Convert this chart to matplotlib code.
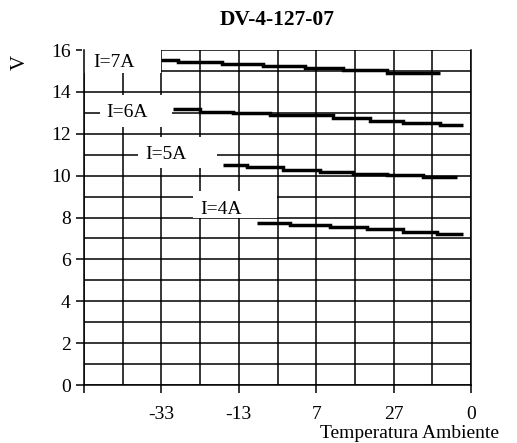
import matplotlib
matplotlib.use('Agg')
import matplotlib.pyplot as plt
from matplotlib.patches import Rectangle

plt.rcParams['font.family'] = ['Liberation Serif', 'DejaVu Serif']

# data (step curves: edges in degrees, levels in volts)
labels = ['I=7A', 'I=6A', 'I=5A', 'I=4A']
edges_7a = [-33, -28.6, -17.4, -6.7, 4.1, 14.0, 25.2, 39.0]
volts_7a = [15.50, 15.41, 15.32, 15.22, 15.13, 15.05, 14.92]
edges_6a = [-29.9, -23.0, -14.4, -4.9, 11.4, 20.9, 29.5, 39.0, 45.0]
volts_6a = [13.18, 13.05, 12.97, 12.88, 12.74, 12.62, 12.51, 12.42]
edges_5a = [-17.0, -11.0, -1.5, 8.0, 16.6, 25.2, 34.7, 43.3]
volts_5a = [10.51, 10.40, 10.28, 10.19, 10.09, 10.03, 9.92]
edges_4a = [-8.4, 0.2, 10.6, 20.0, 29.5, 38.1, 45.0]
volts_4a = [7.75, 7.62, 7.53, 7.43, 7.32, 7.21]

xticks = [-53, -33, -13, 7, 27, 47]
xtick_labels = ['', '-33', '-13', '7', '27', '0']
yticks = [0, 2, 4, 6, 8, 10, 12, 14, 16]

# label positions and white boxes behind them (x0, x1, y0, y1)
label_pos = [(-45.2, 15.4), (-41.9, 13.0), (-31.8, 11.0), (-17.6, 8.4)]
label_boxes = [(-53.5, -33, 14.9, 16.3), (-48.9, -30.3, 12.3, 13.85),
               (-39.0, -18.7, 10.36, 11.85), (-24.8, -3.1, 7.97, 9.26)]

fig = plt.figure(figsize=(5.17, 4.43), dpi=100)
ax = fig.add_axes([84/517, 58/443, 387/517, 335/443])

for e, v in [(edges_7a, volts_7a), (edges_6a, volts_6a),
             (edges_5a, volts_5a), (edges_4a, volts_4a)]:
    ax.stairs(v, e, baseline=None, color='black', lw=2.5, zorder=3)

for (x0, x1, y0, y1) in label_boxes:
    ax.add_patch(Rectangle((x0, y0), x1 - x0, y1 - y0, facecolor='white',
                           edgecolor='none', zorder=2, clip_on=False))
for lab, (x, y) in zip(labels, label_pos):
    ax.text(x, y, lab, fontsize=14, ha='center', va='center', zorder=4)

ax.set_xlim(-53, 47)
ax.set_ylim(0, 16)
ax.set_xticks(xticks)
ax.set_xticklabels(xtick_labels)
ax.set_xticks([-43, -23, -3, 17, 37], minor=True)
ax.set_yticks(yticks)
ax.set_yticks([1, 3, 5, 7, 9, 11, 13, 15], minor=True)
ax.grid(which='both', color='black', lw=1.1)
ax.tick_params(which='major', length=6, width=1.1, labelsize=14, direction='out')
ax.tick_params(axis='x', which='major', pad=9)
ax.tick_params(which='minor', length=0)

ax.spines['top'].set_visible(False)
ax.spines['right'].set_linewidth(1.1)
ax.spines['left'].set_linewidth(1.1)
ax.spines['bottom'].set_linewidth(1.1)
ax.spines['left'].set_zorder(5)
ax.spines['bottom'].set_zorder(5)

ax.set_title('DV-4-127-07', fontsize=15.5, fontweight='bold', pad=18)
fig.text(20/517, 1 - 62/443, 'V', rotation=90, fontsize=15, ha='center', va='center')
fig.text(409/517, 1/443, 'Temperatura Ambiente', fontsize=14,
         ha='center', va='bottom')

fig.savefig('out.png', dpi=100)
